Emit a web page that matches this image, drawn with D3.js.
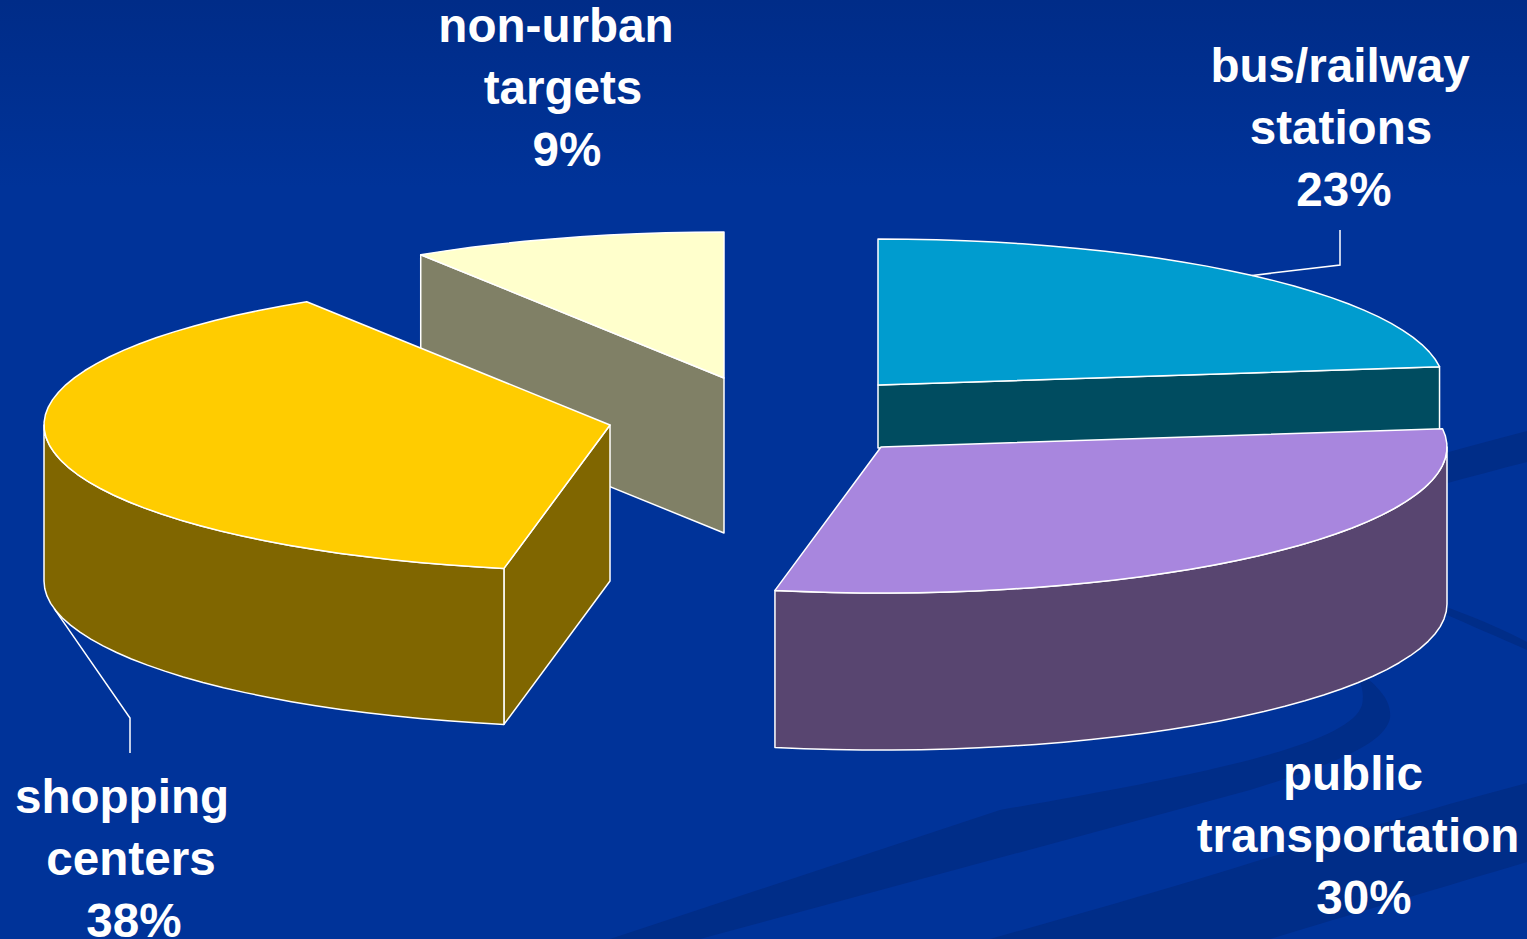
<!DOCTYPE html>
<html>
<head>
<meta charset="utf-8">
<style>
    html, body { margin: 0; padding: 0; background: #003399; overflow: hidden; }
    svg { display: block; }
    text { font-family: "Liberation Sans", Arial, sans-serif; font-weight: bold; fill: #fff; }
</style>
<script src="https://cdn.jsdelivr.net/npm/d3@7"></script>
</head>
<body>
<svg id="chart"></svg>
<script>
// chart data, clockwise from 12 o'clock
const categories = ["bus/railway stations", "public transportation", "shopping centers", "non-urban targets"];
const shares = [23, 30, 38, 9];

// where each exploded slice sits, and how it is painted
const centers = [[878, 385], [881, 447], [610, 425], [724, 378]];
const depths = [63, 157, 156, 155];
const topColors = ["#009CCF", "#A886DE", "#FFCC00", "#FFFFCC"];
const sideColors = ["#004C60", "#584570", "#806600", "#808066"];
const drawOrder = [3, 0, 1, 2];

// label lines: text is built from the data, x and baseline per line
const labelLines = [
    [["bus/railway", 1340, 82], ["stations", 1341, 144], ["23%", 1344, 206]],
    [["public", 1353, 790], ["transportation", 1358, 852], ["30%", 1364, 914]],
    [["shopping", 122, 813], ["centers", 131, 875], ["38%", 134, 937]],
    [["non-urban", 556, 42], ["targets", 563, 104], ["9%", 567, 166]]
];

// leader lines start on the slice rim and go through these points
const leaders = [
    { slice: 0, onBottom: false, points: [[1340, 265], [1340, 230]] },
    { slice: 2, onBottom: true, points: [[130, 718], [130, 753]] }
];

const width = 1527, height = 939;
const svg = d3.select("#chart").attr("width", width).attr("height", height);

// ellipse radii of the tilted pie
const xRadius = d3.scaleLinear().domain([-1, 1]).range([-566, 566]);
const yRadius = d3.scaleLinear().domain([-1, 1]).range([-146, 146]);

const defs = svg.append("defs");
const bg = defs.append("linearGradient").attr("id", "bg").attr("x1", 0).attr("y1", 0).attr("x2", 0).attr("y2", 1);
bg.append("stop").attr("offset", 0).attr("stop-color", "#002C88");
bg.append("stop").attr("offset", 0.2).attr("stop-color", "#003399");
svg.append("rect").attr("width", width).attr("height", height).attr("fill", "url(#bg)");

// faint background swooshes of the slide template
const swooshes = [
    "M1527,431 C1300,490 1000,590 820,640 L820,670 C1000,620 1300,520 1527,462 Z",
    "M1350,665 C1378,685 1392,700 1390,718 C1385,745 1330,765 1250,790 L700,939 L610,939 L1000,810 C1200,775 1350,745 1362,705 C1365,690 1360,678 1350,665 Z",
    "M1527,783 C1350,830 1250,865 1117,903 L990,939 L1270,939 C1350,915 1450,885 1527,862 Z",
    "M1440,605 C1470,615 1500,628 1527,642 L1527,650 C1500,638 1470,625 1440,612 Z"
];
svg.append("g").selectAll("path").data(swooshes).join("path")
    .attr("d", d => d)
    .attr("fill", "#002D88");

const arcs = d3.pie().sort(null).startAngle(0).endAngle(2 * Math.PI)(shares);

function rimPoint(i, angle, drop) {
    return [
        centers[i][0] + xRadius(Math.sin(angle)),
        centers[i][1] - yRadius(Math.cos(angle)) + drop
    ];
}

function rimAngles(a0, a1) {
    const step = 3 * Math.PI / 180;
    const n = Math.max(1, Math.ceil((a1 - a0) / step));
    return d3.range(n + 1).map(k => a0 + (a1 - a0) * k / n);
}

const line = d3.line();
const closed = pts => line(pts) + "Z";

const slices = svg.append("g")
    .attr("stroke", "#fff")
    .attr("stroke-width", 1.5)
    .attr("stroke-linejoin", "round");

drawOrder.forEach(i => {
    const a = arcs[i];
    const g = slices.append("g").attr("class", "slice");
    const depth = depths[i];
    const apex = centers[i];

    // flat cut faces that look towards the viewer
    [a.startAngle, a.endAngle].forEach((angle, k) => {
        const visible = k === 0 ? Math.sin(angle) < -1e-6 : Math.sin(angle) > 1e-6;
        if (!visible) return;
        const rim = rimPoint(i, angle, 0);
        g.append("path")
            .attr("d", closed([apex, rim, [rim[0], rim[1] + depth], [apex[0], apex[1] + depth]]))
            .attr("fill", sideColors[i]);
    });

    // curved outer wall, only the front half of the ellipse
    const w0 = Math.max(a.startAngle, Math.PI / 2);
    const w1 = Math.min(a.endAngle, 3 * Math.PI / 2);
    if (w0 < w1) {
        const upper = rimAngles(w0, w1).map(t => rimPoint(i, t, 0));
        const lower = rimAngles(w0, w1).reverse().map(t => rimPoint(i, t, depth));
        g.append("path")
            .attr("d", closed(upper.concat(lower)))
            .attr("fill", sideColors[i]);
    }

    // top of the slice
    const top = [apex].concat(rimAngles(a.startAngle, a.endAngle).map(t => rimPoint(i, t, 0)));
    g.append("path")
        .attr("d", closed(top))
        .attr("fill", topColors[i]);
});

const leaderGroup = svg.append("g")
    .attr("fill", "none")
    .attr("stroke", "#fff")
    .attr("stroke-width", 1.5);

leaders.forEach(l => {
    const a = arcs[l.slice];
    const mid = (a.startAngle + a.endAngle) / 2;
    const start = rimPoint(l.slice, mid, l.onBottom ? depths[l.slice] : 0);
    leaderGroup.append("path").attr("d", line([start].concat(l.points)));
});

const labels = svg.append("g").attr("font-size", 47.6).attr("text-anchor", "middle");
categories.forEach((name, i) => {
    labels.append("text")
        .attr("class", "label")
        .attr("data-category", name)
        .selectAll("tspan")
        .data(labelLines[i])
        .join("tspan")
        .attr("x", d => d[1])
        .attr("y", d => d[2])
        .text(d => d[0]);
});
</script>
</body>
</html>
